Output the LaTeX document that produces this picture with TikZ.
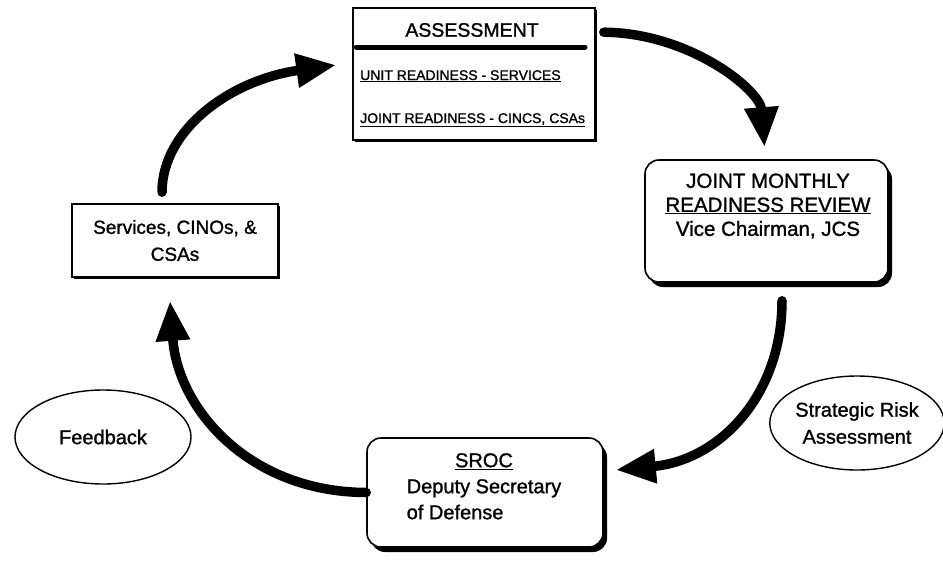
\documentclass[tikz,border=0pt]{standalone}
\usepackage{fontspec}
\setmainfont{Liberation Sans}[FakeBold=1.2]
\usetikzlibrary{arrows.meta,shapes.geometric,shadows}
\begin{document}
\begin{tikzpicture}[x=1pt,y=-1pt,
  boxline/.style={draw=black, line width=1.6pt, fill=white},
  sq/.style={boxline, rectangle, inner sep=0pt},
  rnd/.style={boxline, rectangle, rounded corners=14pt, inner sep=0pt},
  bigshad/.style={drop shadow={shadow xshift=4pt, shadow yshift=-5pt, fill=black, opacity=1}},
  smallshad/.style={drop shadow={shadow xshift=1.5pt, shadow yshift=-1.5pt, fill=black, opacity=1}},
  ell/.style={draw=black, line width=1.4pt, ellipse, inner sep=0pt, align=center},
  bigarrow/.style={line width=9.5pt, line cap=round, -{Triangle[length=40pt,width=32pt]}},
  txt/.style={inner sep=0pt, align=center},
  f20/.style={font=\fontsize{20}{26}\selectfont},
]
\useasboundingbox (0,0) rectangle (943,563);

% Assessment box
\node[sq, smallshad, minimum width=242pt, minimum height=132pt] (assess) at (474,74) {};
\node[txt, font=\fontsize{19.5}{22}\selectfont] (atitle) at (472,30) {ASSESSMENT};
\draw[line width=5pt, line cap=round] ([xshift=4pt]assess.west |- 0,47) -- (585,47);
\node[inner sep=0pt, anchor=base west, font=\fontsize{14}{16}\selectfont] (unit) at (360,80) {\underline{UNIT READINESS - SERVICES}};
\node[inner sep=0pt, anchor=base west, font=\fontsize{14}{16}\selectfont] (jointr) at (360,123) {\underline{JOINT READINESS - CINCS, CSAs}};

% Joint monthly readiness review
\node[rnd, bigshad, minimum width=243pt, minimum height=122pt] (joint) at (766.5,221) {};
\node[txt, font=\fontsize{20.5}{24}\selectfont] (jointtxt) at (768,206) {JOINT MONTHLY\\\underline{READINESS REVIEW}\\Vice Chairman, JCS};

% SROC
\node[rnd, bigshad, minimum width=236pt, minimum height=109pt] (sroc) at (485,492.5) {};
\node[txt, f20] (sroctxt) at (484,488) {\begin{tabular}{@{}l@{}}\multicolumn{1}{@{}c@{}}{\underline{SROC}}\\Deputy Secretary\\of Defense\end{tabular}};

% Services box
\node[sq, smallshad, minimum width=206pt, minimum height=73pt, font=\fontsize{19}{27}\selectfont, align=center] (svc) at (175,240.5) {Services, CINOs, \&\\CSAs};

% Ellipses
\node[ell, font=\fontsize{20}{26}\selectfont, minimum width=176pt, minimum height=94pt] (feed) at (103,437) {Feedback};
\node[ell, font=\fontsize{20}{27}\selectfont, minimum width=168pt, minimum height=94pt] (risk) at (857,423) {Strategic Risk\\Assessment};

% Cycle arrows
\draw[bigarrow] ([xshift=-13pt,yshift=11pt]svc.north) .. controls (162,130) and (230,80) .. ([xshift=-16pt,yshift=9pt]assess.west);
\draw[bigarrow] ([xshift=8pt,yshift=-25pt]assess.north east) .. controls (690,33) and (760,90) .. ([xshift=-2pt,yshift=12pt]joint.north);
\draw[bigarrow] ([xshift=15.5pt,yshift=-18pt]joint.south) .. controls (782,395) and (720,460) .. ([xshift=12pt,yshift=22.5pt]sroc.east);
\draw[bigarrow] (sroc.west) .. controls (250,492) and (178,410) .. ([xshift=-5pt,yshift=-23pt]svc.south);
\end{tikzpicture}
\end{document}
